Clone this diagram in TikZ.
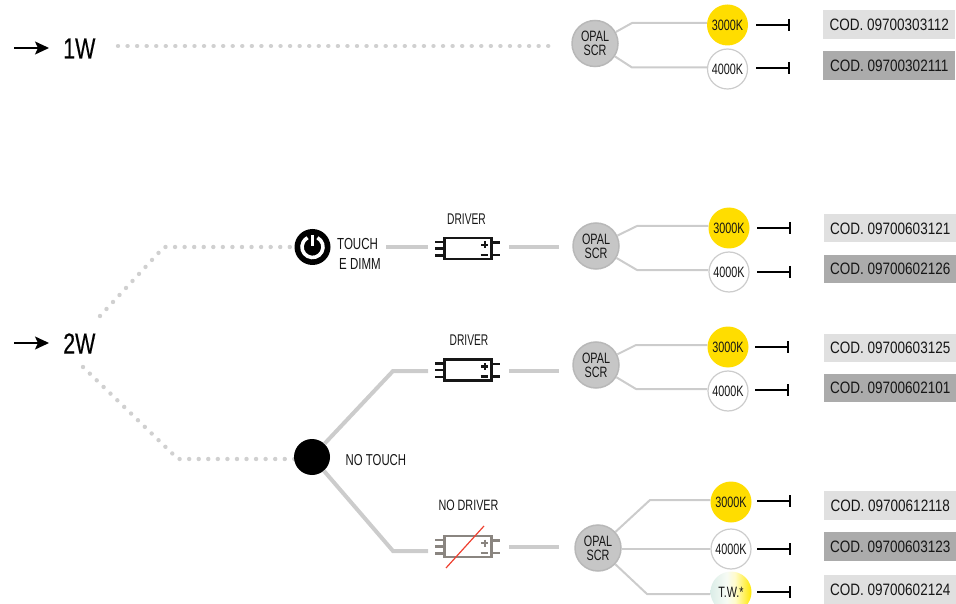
\documentclass[tikz,border=0pt]{standalone}
\usepackage{fontspec}
\setmainfont{Liberation Sans}[FakeStretch=0.72]
\newfontfamily\codefont{Liberation Sans}[FakeStretch=0.82]
\newfontfamily\narrowfont{Liberation Sans}[FakeStretch=0.66]
\newfontfamily\bigfont{Liberation Sans}[FakeStretch=0.74,FakeBold=0.4]
\usetikzlibrary{arrows.meta}
\definecolor{ink}{HTML}{161616}
\definecolor{linegrey}{HTML}{CCCCCC}
\definecolor{dotgrey}{HTML}{D0D0D0}
\definecolor{boxlight}{HTML}{E0E0E0}
\definecolor{boxdark}{HTML}{ABABAB}
\definecolor{opalfill}{HTML}{C6C6C6}
\definecolor{opalline}{HTML}{B8B8B8}
\definecolor{warm}{HTML}{FFDD00}
\definecolor{nodriver}{HTML}{8A8580}
\definecolor{redslash}{HTML}{EE4030}
\pgfdeclarehorizontalshading{twshade}{100bp}{
 rgb(0bp)=(0.86,0.93,0.91);
 rgb(25bp)=(0.86,0.93,0.91);
 rgb(45bp)=(0.97,0.985,0.96);
 rgb(55bp)=(1,0.985,0.80);
 rgb(75bp)=(1,0.91,0);
 rgb(100bp)=(1,0.91,0)}
\tikzset{
 x=1pt,y=-1pt,
 lab/.style={inner sep=0pt,text=ink,font=\fontsize{15}{15}\selectfont,align=center},
 big/.style={inner sep=0pt,text=black,font=\bigfont\fontsize{29}{29}\selectfont},
 knobtext/.style={text=ink,font=\fontsize{15}{14}\selectfont},
 opal/.style={circle,minimum size=46pt,inner sep=0pt,fill=opalfill,draw=opalline,line width=1.5pt,align=center,knobtext},
 warmk/.style={circle,minimum size=41pt,inner sep=0pt,fill=warm,knobtext},
 coolk/.style={circle,minimum size=40pt,inner sep=0pt,fill=white,draw=linegrey,line width=1.2pt,knobtext},
 twk/.style={circle,minimum size=41pt,inner sep=0pt,shading=twshade,knobtext},
 conn/.style={draw=linegrey,line width=2pt,line join=round},
 thick line/.style={draw=linegrey,line width=4pt,line join=miter},
 dots/.style={draw=dotgrey,line width=4.4pt,line cap=round,dash pattern=on 0.01pt off 9.55pt},
 stub/.style={draw=black,line width=2pt,-{Bar[width=12pt,line width=2pt]}},
 inarrow/.style={draw=black,line width=1.5pt,-{Stealth[length=14pt,width=13pt,inset=3pt]}},
 codel/.style={fill=boxlight,minimum height=29pt,minimum width=132pt,inner sep=0pt,text=ink,font=\codefont\fontsize{16.5}{17}\selectfont},
 coded/.style={codel,fill=boxdark}
}
\newcommand{\driverbox}[4]{% name, x, y, colour
 \node[draw=#4,line width=2.2pt,minimum width=47pt,minimum height=21pt,inner sep=0pt] (#1) at (#2,#3) {};
 \draw[#4,line width=2.2pt] (#1.west)++(-8,-6.5)--++(8,0) (#1.west)++(-8,0)--++(8,0) (#1.west)++(-8,7)--++(8,0)
   (#1.east)++(0,-6)--++(7,0) (#1.east)++(0,6.5)--++(7,0);
 \draw[#4,line width=2.2pt] (#1.east)++(-8,-7)--++(0,7) (#1.east)++(-11.5,-3.5)--++(7,0) (#1.east)++(-12,6.5)--++(7.5,0);
}
\begin{document}
\begin{tikzpicture}
\useasboundingbox (0,0) rectangle (956,604);
% input labels
\node[big,anchor=west] (w1) at (63,48.5) {1W};
\node[big,anchor=west] (w2) at (63,343.5) {2W};
\coordinate (a1) at (14,48); \coordinate (a1e) at (49,48);
\coordinate (a2) at (14,343); \coordinate (a2e) at (49,343);
\draw[inarrow] (a1)--(a1e);
\draw[inarrow] (a2)--(a2e);
% dotted
\coordinate (d1s) at (118,46); \coordinate (d1e) at (552,46);
\draw[dots] (d1s)--(d1e);
\coordinate (d2s) at (100,316); \coordinate (d2b) at (164,247); \coordinate (d2e) at (295,247);
\draw[dots] (d2s)--(d2b)--(d2e);
\coordinate (d3s) at (83,367); \coordinate (d3b) at (178,459); \coordinate (d3e) at (295,459);
\draw[dots] (d3s)--(d3b)--(d3e);
% touch icon
\node[circle,fill=black,minimum size=36pt,inner sep=0pt] (touch) at (312.5,247) {};
\draw[white,line width=3.6pt] (touch.center)++(62:10.5pt) arc[start angle=62,end angle=-242,radius=10.5pt];
\coordinate (tp1) at (312.5,235); \coordinate (tp2) at (312.5,246.5);
\draw[white,line width=3pt] (tp1)--(tp2);
\node[lab,anchor=west,font=\fontsize{16}{16}\selectfont] (tl1) at (337,244) {TOUCH};
\node[lab,anchor=west,font=\fontsize{16}{16}\selectfont] (tl2) at (339,263.5) {E DIMM};
% no touch
\node[circle,fill=black,minimum size=36pt,inner sep=0pt] (nt) at (312,457) {};
\node[lab,anchor=west,font=\fontsize{15.8}{16}\selectfont] (ntl) at (345.5,460) {NO TOUCH};
% drivers
\driverbox{dr1}{468}{248.5}{ink}
\driverbox{dr2}{468}{370}{ink}
\driverbox{dr3}{468}{546.5}{nodriver}
\node[lab,font=\narrowfont\fontsize{15.5}{15}\selectfont] (dl1) at (466.5,219) {DRIVER};
\node[lab,font=\narrowfont\fontsize{15.5}{15}\selectfont] (dl2) at (469,340) {DRIVER};
\node[lab,font=\fontsize{15}{15}\selectfont] (dl3) at (468.5,505) {NO DRIVER};
\coordinate (r1) at (446,568); \coordinate (r2) at (484,526);
\draw[redslash,line width=1.2pt] (r1)--(r2);
% thick connectors
\coordinate (t1s) at (386,247); \coordinate (t1e) at (428,247);
\draw[thick line] (t1s)--(t1e);
\coordinate (t2s) at (509,247); \coordinate (t2e) at (559,247);
\draw[thick line] (t2s)--(t2e);
\coordinate (t3s) at (509,371); \coordinate (t3e) at (559,371);
\draw[thick line] (t3s)--(t3e);
\coordinate (t4s) at (509,547); \coordinate (t4e) at (559,547);
\draw[thick line] (t4s)--(t4e);
\coordinate (n1b) at (393,371); \coordinate (n1e) at (428,371);
\draw[thick line] (nt)--(n1b)--(n1e);
\coordinate (n2b) at (393,551); \coordinate (n2e) at (428,551);
\draw[thick line] (nt)--(n2b)--(n2e);
% group A
\node[opal] (oa) at (595,43.5) {OPAL\\SCR};
\node[warmk] (ka1) at (727.5,25) {3000K};
\node[coolk] (ka2) at (727.5,69) {4000K};
\coordinate (ba1) at (632,23); \coordinate (ba2) at (632,67.5);
\draw[conn] (oa)--(ba1)--(ba1-|ka1.west);
\draw[conn] (oa)--(ba2)--(ba2-|ka2.west);
\coordinate (sa1) at (756,25); \coordinate (ea1) at (790,25);
\coordinate (sa2) at (756,68); \coordinate (ea2) at (790,68);
\draw[stub] (sa1)--(ea1);
\draw[stub] (sa2)--(ea2);
\node[codel,anchor=west] (ca1) at (823,24.5) {COD. 09700303112};
\node[coded,anchor=west] (ca2) at (823,65.5) {COD. 09700302111};
% group B
\node[opal] (ob) at (596,246) {OPAL\\SCR};
\node[warmk] (kb1) at (729,228) {3000K};
\node[coolk] (kb2) at (729,272) {4000K};
\coordinate (bb1) at (637,226); \coordinate (bb2) at (637,270);
\draw[conn] (ob)--(bb1)--(bb1-|kb1.west);
\draw[conn] (ob)--(bb2)--(bb2-|kb2.west);
\coordinate (sb1) at (757,228); \coordinate (eb1) at (791,228);
\coordinate (sb2) at (757,272); \coordinate (eb2) at (791,272);
\draw[stub] (sb1)--(eb1);
\draw[stub] (sb2)--(eb2);
\node[codel,anchor=west,minimum height=28pt] (cb1) at (824,228.5) {COD. 09700603121};
\node[coded,anchor=west,minimum height=28pt] (cb2) at (824,269) {COD. 09700602126};
% group C
\node[opal] (oc) at (596,365) {OPAL\\SCR};
\node[warmk] (kc1) at (728,347) {3000K};
\node[coolk] (kc2) at (728,391) {4000K};
\coordinate (bc1) at (636,345); \coordinate (bc2) at (636,389);
\draw[conn] (oc)--(bc1)--(bc1-|kc1.west);
\draw[conn] (oc)--(bc2)--(bc2-|kc2.west);
\coordinate (sc1) at (755,347); \coordinate (ec1) at (789,347);
\coordinate (sc2) at (755,390); \coordinate (ec2) at (789,390);
\draw[stub] (sc1)--(ec1);
\draw[stub] (sc2)--(ec2);
\node[codel,anchor=west,minimum height=28pt] (cc1) at (824,348) {COD. 09700603125};
\node[coded,anchor=west,minimum height=28pt] (cc2) at (824,388) {COD. 09700602101};
% group D
\node[opal] (od) at (598,548) {OPAL\\SCR};
\node[warmk] (kd1) at (731,502) {3000K};
\node[coolk] (kd2) at (731,549) {4000K};
\node[twk] (kd3) at (731,592) {T.W.*};
\coordinate (bd1) at (650,500); \coordinate (bd3) at (647,594);
\draw[conn] (od)--(bd1)--(bd1-|kd1.west);
\coordinate (bd2) at (od.east|-kd2.west);
\draw[conn] (bd2)--(kd2);
\draw[conn] (od)--(bd3)--(bd3-|kd3.west);
\coordinate (sd1) at (757,501); \coordinate (ed1) at (791,501);
\coordinate (sd2) at (757,549); \coordinate (ed2) at (791,549);
\coordinate (sd3) at (757,592); \coordinate (ed3) at (791,592);
\draw[stub] (sd1)--(ed1);
\draw[stub] (sd2)--(ed2);
\draw[stub] (sd3)--(ed3);
\node[codel,anchor=west] (cd1) at (824,505.5) {COD. 09700612118};
\node[coded,anchor=west] (cd2) at (824,546.5) {COD. 09700603123};
\node[codel,anchor=west] (cd3) at (824,589.5) {COD. 09700602124};
\end{tikzpicture}
\end{document}
